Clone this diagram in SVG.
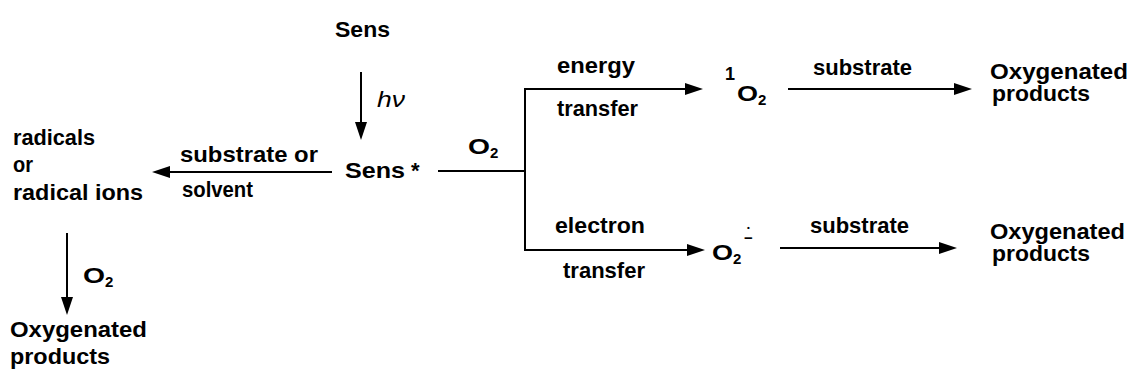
<svg xmlns="http://www.w3.org/2000/svg" width="1133" height="379" viewBox="0 0 1133 379">
<style>
  text { font-family: "Liberation Sans", Arial, sans-serif; font-size: 22px; font-weight: bold; fill: #000; }
  .sub { font-size: 15px; }
  .sup { font-size: 18px; }
  .it { font-style: italic; font-weight: normal; }
  .ln { stroke: #000; stroke-width: 2; fill: none; }
  .arr { marker-end: url(#ah); }
</style>
<defs>
  <marker id="ah" markerUnits="userSpaceOnUse" markerWidth="18" markerHeight="12" refX="15" refY="6" orient="auto">
    <path d="M0,0 L18,6 L0,12 z" fill="#000"/>
  </marker>
</defs>
<rect width="1133" height="379" fill="#fff"/>

<g id="connectors">
  <line class="ln arr" x1="361" y1="72" x2="361" y2="137"/>
  <line class="ln arr" x1="332" y1="172" x2="155" y2="172"/>
  <polyline class="ln" points="438,171 525,171"/>
  <polyline class="ln" points="525,171 525,89"/>
  <polyline class="ln" points="525,171 525,250"/>
  <line class="ln arr" x1="524" y1="89" x2="700" y2="89"/>
  <line class="ln arr" x1="524" y1="250" x2="702" y2="250"/>
  <line class="ln arr" x1="788" y1="89" x2="969" y2="89"/>
  <line class="ln arr" x1="780" y1="248" x2="954" y2="248"/>
  <line class="ln arr" x1="67" y1="233" x2="67" y2="312"/>
</g>

<g id="labels">
  <text class="it" x="377" y="107" textLength="28" lengthAdjust="spacingAndGlyphs">hν</text>
  <text x="180" y="162" textLength="138" lengthAdjust="spacingAndGlyphs">substrate or</text>
  <text x="182" y="197" textLength="71" lengthAdjust="spacingAndGlyphs">solvent</text>
  <text id="label-O2-mid"><tspan x="468" y="154" textLength="22" lengthAdjust="spacingAndGlyphs">O</tspan><tspan class="sub" x="490" y="158">2</tspan></text>
  <text x="557" y="73" textLength="78" lengthAdjust="spacingAndGlyphs">energy</text>
  <text x="557" y="116" textLength="81" lengthAdjust="spacingAndGlyphs">transfer</text>
  <text x="813" y="75" textLength="99" lengthAdjust="spacingAndGlyphs">substrate</text>
  <text x="555" y="233" textLength="90" lengthAdjust="spacingAndGlyphs">electron</text>
  <text x="563" y="278" textLength="82" lengthAdjust="spacingAndGlyphs">transfer</text>
  <text x="810" y="233" textLength="99" lengthAdjust="spacingAndGlyphs">substrate</text>
  <text id="label-O2-left"><tspan x="83" y="283" textLength="22" lengthAdjust="spacingAndGlyphs">O</tspan><tspan class="sub" x="105" y="287">2</tspan></text>
</g>

<g id="node-sens">
  <text x="335" y="37" textLength="55" lengthAdjust="spacingAndGlyphs">Sens</text>
</g>
<g id="node-sens-star">
  <text><tspan x="345" y="178" textLength="60" lengthAdjust="spacingAndGlyphs">Sens</tspan><tspan x="411" y="178">*</tspan></text>
</g>
<g id="node-radicals">
  <text><tspan x="13" y="145" textLength="82" lengthAdjust="spacingAndGlyphs">radicals</tspan><tspan x="13" y="172" textLength="20" lengthAdjust="spacingAndGlyphs">or</tspan><tspan x="13" y="200" textLength="130" lengthAdjust="spacingAndGlyphs">radical ions</tspan></text>
</g>
<g id="node-products-left">
  <text><tspan x="10" y="337" textLength="137" lengthAdjust="spacingAndGlyphs">Oxygenated</tspan><tspan x="10" y="364" textLength="100" lengthAdjust="spacingAndGlyphs">products</tspan></text>
</g>
<g id="node-singlet-oxygen">
  <text><tspan class="sup" x="725" y="80">1</tspan><tspan x="737" y="101" textLength="21" lengthAdjust="spacingAndGlyphs">O</tspan><tspan class="sub" x="758" y="105">2</tspan></text>
</g>
<g id="node-superoxide">
  <text><tspan x="712" y="260" textLength="21" lengthAdjust="spacingAndGlyphs">O</tspan><tspan class="sub" x="733" y="264">2</tspan><tspan x="747" y="230" style="font-size:8px">•</tspan><tspan x="744" y="243" style="font-size:15px">−</tspan></text>
</g>
<g id="node-products-top">
  <text><tspan x="990" y="79" textLength="138" lengthAdjust="spacingAndGlyphs">Oxygenated</tspan><tspan x="992" y="101" textLength="98" lengthAdjust="spacingAndGlyphs">products</tspan></text>
</g>
<g id="node-products-bottom">
  <text><tspan x="990" y="239" textLength="135" lengthAdjust="spacingAndGlyphs">Oxygenated</tspan><tspan x="992" y="261" textLength="98" lengthAdjust="spacingAndGlyphs">products</tspan></text>
</g>
</svg>
